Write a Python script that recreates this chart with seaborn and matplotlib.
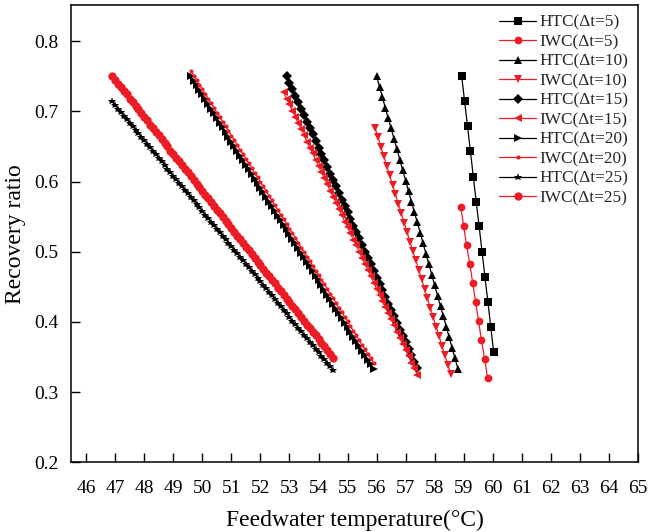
import matplotlib
matplotlib.use("Agg")
import matplotlib.pyplot as plt
import seaborn as sns
import pandas as pd

# ---------------- data ----------------
x_htc5 = [58.93, 59.03, 59.13, 59.23, 59.33, 59.43, 59.53, 59.63, 59.73, 59.83, 59.93, 60.03]
y_htc5 = [0.750, 0.714, 0.679, 0.643, 0.607, 0.571, 0.536, 0.500, 0.464, 0.429, 0.393, 0.357]

x_iwc5 = [58.90, 59.00, 59.10, 59.21, 59.31, 59.41, 59.51, 59.61, 59.72, 59.82]
y_iwc5 = [0.563, 0.536, 0.509, 0.482, 0.455, 0.428, 0.401, 0.374, 0.347, 0.320]

x_htc10 = [56.0, 56.1, 56.2, 56.3, 56.4, 56.5, 56.6, 56.7, 56.8, 56.9,
           57.0, 57.1, 57.2, 57.3, 57.4, 57.5, 57.6, 57.7, 57.8, 57.9,
           58.0, 58.1, 58.2, 58.3, 58.4, 58.5, 58.6, 58.7, 58.8]
y_htc10 = [0.750, 0.735, 0.720, 0.705, 0.690, 0.676, 0.661, 0.646, 0.631, 0.616,
           0.601, 0.586, 0.571, 0.556, 0.542, 0.527, 0.512, 0.497, 0.482, 0.467,
           0.452, 0.437, 0.422, 0.408, 0.393, 0.378, 0.363, 0.348, 0.333]

x_iwc10 = [55.95, 56.05, 56.15, 56.25, 56.35, 56.45, 56.55, 56.65, 56.75, 56.85,
           56.95, 57.05, 57.15, 57.25, 57.35, 57.45, 57.55, 57.65, 57.75, 57.85,
           57.95, 58.05, 58.15, 58.25, 58.35, 58.45, 58.55]
y_iwc10 = [0.676, 0.663, 0.649, 0.636, 0.622, 0.609, 0.595, 0.582, 0.568, 0.555,
           0.541, 0.528, 0.514, 0.501, 0.488, 0.474, 0.461, 0.447, 0.434, 0.420,
           0.407, 0.393, 0.380, 0.366, 0.353, 0.339, 0.326]

x_htc15 = [52.9, 53.0, 53.1, 53.2, 53.3, 53.4, 53.5, 53.6, 53.7, 53.8,
           53.9, 54.0, 54.1, 54.2, 54.3, 54.4, 54.5, 54.6, 54.7, 54.8,
           54.9, 55.0, 55.1, 55.2, 55.3, 55.4, 55.5, 55.6, 55.7, 55.8,
           55.9, 56.0, 56.1, 56.2, 56.3, 56.4, 56.5, 56.6, 56.7, 56.8,
           56.9, 57.0, 57.1, 57.2, 57.3, 57.4]
y_htc15 = [0.750, 0.741, 0.732, 0.722, 0.713, 0.704, 0.695, 0.685, 0.676, 0.667,
           0.658, 0.648, 0.639, 0.630, 0.621, 0.611, 0.602, 0.593, 0.584, 0.574,
           0.565, 0.556, 0.547, 0.537, 0.528, 0.519, 0.510, 0.500, 0.491, 0.482,
           0.473, 0.463, 0.454, 0.445, 0.436, 0.426, 0.417, 0.408, 0.399, 0.389,
           0.380, 0.371, 0.362, 0.353, 0.343, 0.334]

x_iwc15 = [52.8, 52.9, 53.0, 53.1, 53.2, 53.3, 53.4, 53.5, 53.6, 53.7, 53.8,
           53.9, 54.0, 54.1, 54.2, 54.3, 54.4, 54.5, 54.6, 54.7, 54.8,
           54.9, 55.0, 55.1, 55.2, 55.3, 55.4, 55.5, 55.6, 55.7, 55.8,
           55.9, 56.0, 56.1, 56.2, 56.3, 56.4, 56.5, 56.6, 56.7, 56.8,
           56.9, 57.0, 57.1, 57.2, 57.3, 57.4]
y_iwc15 = [0.727, 0.718, 0.710, 0.701, 0.692, 0.683, 0.675, 0.666, 0.657, 0.648,
           0.640, 0.631, 0.622, 0.613, 0.605, 0.596, 0.587, 0.578, 0.570, 0.561,
           0.552, 0.543, 0.535, 0.526, 0.517, 0.509, 0.500, 0.491, 0.482, 0.474,
           0.465, 0.456, 0.447, 0.439, 0.430, 0.421, 0.412, 0.404, 0.395, 0.386,
           0.377, 0.369, 0.360, 0.351, 0.342, 0.334, 0.325]

x_dt20 = [49.6, 49.7, 49.8, 49.9, 50.0, 50.1, 50.2, 50.3, 50.4, 50.5,
          50.6, 50.7, 50.8, 50.9, 51.0, 51.1, 51.2, 51.3, 51.4, 51.5,
          51.6, 51.7, 51.8, 51.9, 52.0, 52.1, 52.2, 52.3, 52.4, 52.5,
          52.6, 52.7, 52.8, 52.9, 53.0, 53.1, 53.2, 53.3, 53.4, 53.5,
          53.6, 53.7, 53.8, 53.9, 54.0, 54.1, 54.2, 54.3, 54.4, 54.5,
          54.6, 54.7, 54.8, 54.9, 55.0, 55.1, 55.2, 55.3, 55.4, 55.5,
          55.6, 55.7, 55.8, 55.9]
y_htc20 = [0.750, 0.743, 0.737, 0.730, 0.724, 0.717, 0.710, 0.704, 0.697, 0.690,
           0.684, 0.677, 0.671, 0.664, 0.657, 0.651, 0.644, 0.637, 0.631, 0.624,
           0.618, 0.611, 0.604, 0.598, 0.591, 0.585, 0.578, 0.571, 0.565, 0.558,
           0.551, 0.545, 0.538, 0.532, 0.525, 0.518, 0.512, 0.505, 0.498, 0.492,
           0.485, 0.479, 0.472, 0.465, 0.459, 0.452, 0.446, 0.439, 0.432, 0.426,
           0.419, 0.412, 0.406, 0.399, 0.393, 0.386, 0.379, 0.373, 0.366, 0.359,
           0.353, 0.346, 0.340, 0.333]
y_iwc20 = [0.758, 0.751, 0.745, 0.738, 0.732, 0.725, 0.718, 0.712, 0.705, 0.698,
           0.692, 0.685, 0.679, 0.672, 0.665, 0.659, 0.652, 0.645, 0.639, 0.632,
           0.626, 0.619, 0.612, 0.606, 0.599, 0.593, 0.586, 0.579, 0.573, 0.566,
           0.559, 0.553, 0.546, 0.540, 0.533, 0.526, 0.520, 0.513, 0.506, 0.500,
           0.493, 0.487, 0.480, 0.473, 0.467, 0.460, 0.454, 0.447, 0.440, 0.434,
           0.427, 0.420, 0.414, 0.407, 0.401, 0.394, 0.387, 0.381, 0.374, 0.367,
           0.361, 0.354, 0.348, 0.341]

x_dt25 = [46.9, 47.0, 47.1, 47.2, 47.3, 47.4, 47.5, 47.6, 47.7, 47.8,
          47.9, 48.0, 48.1, 48.2, 48.3, 48.4, 48.5, 48.6, 48.7, 48.8,
          48.9, 49.0, 49.1, 49.2, 49.3, 49.4, 49.5, 49.6, 49.7, 49.8,
          49.9, 50.0, 50.1, 50.2, 50.3, 50.4, 50.5, 50.6, 50.7, 50.8,
          50.9, 51.0, 51.1, 51.2, 51.3, 51.4, 51.5, 51.6, 51.7, 51.8,
          51.9, 52.0, 52.1, 52.2, 52.3, 52.4, 52.5, 52.6, 52.7, 52.8,
          52.9, 53.0, 53.1, 53.2, 53.3, 53.4, 53.5, 53.6, 53.7, 53.8,
          53.9, 54.0, 54.1, 54.2, 54.3, 54.4, 54.5]
y_htc25 = [0.714, 0.709, 0.704, 0.699, 0.694, 0.689, 0.684, 0.679, 0.674, 0.669,
           0.664, 0.659, 0.654, 0.649, 0.644, 0.639, 0.634, 0.629, 0.624, 0.618,
           0.613, 0.608, 0.603, 0.598, 0.593, 0.588, 0.583, 0.578, 0.573, 0.568,
           0.563, 0.558, 0.553, 0.548, 0.543, 0.538, 0.533, 0.528, 0.523, 0.518,
           0.513, 0.508, 0.503, 0.498, 0.493, 0.488, 0.483, 0.478, 0.473, 0.468,
           0.463, 0.458, 0.453, 0.448, 0.443, 0.438, 0.432, 0.427, 0.422, 0.417,
           0.412, 0.407, 0.402, 0.397, 0.392, 0.387, 0.382, 0.377, 0.372, 0.367,
           0.362, 0.357, 0.352, 0.347, 0.342, 0.337, 0.332]
y_iwc25 = [0.750, 0.745, 0.739, 0.734, 0.729, 0.724, 0.718, 0.713, 0.708, 0.703,
           0.697, 0.692, 0.687, 0.681, 0.676, 0.671, 0.666, 0.660, 0.655, 0.650,
           0.644, 0.639, 0.634, 0.629, 0.623, 0.618, 0.613, 0.608, 0.602, 0.597,
           0.592, 0.586, 0.581, 0.576, 0.571, 0.565, 0.560, 0.555, 0.550, 0.544,
           0.539, 0.534, 0.528, 0.523, 0.518, 0.513, 0.507, 0.502, 0.497, 0.491,
           0.486, 0.481, 0.476, 0.470, 0.465, 0.460, 0.455, 0.449, 0.444, 0.439,
           0.433, 0.428, 0.423, 0.418, 0.412, 0.407, 0.402, 0.396, 0.391, 0.386,
           0.381, 0.375, 0.370, 0.365, 0.360, 0.354, 0.349]

x_ticks = [46, 47, 48, 49, 50, 51, 52, 53, 54, 55, 56, 57, 58, 59, 60, 61, 62, 63, 64, 65]
y_ticks = [0.2, 0.3, 0.4, 0.5, 0.6, 0.7, 0.8]

# ---------------- style ----------------
sns.set_theme(style="white")
plt.rcParams["font.family"] = ["Liberation Serif", "DejaVu Serif"]

BLACK = "#000000"
RED = "#ec1c24"

series = [
    ("HTC(\u0394t=5)", x_htc5, y_htc5, BLACK, "s", 5.4),
    ("IWC(\u0394t=5)", x_iwc5, y_iwc5, RED, "o", 5.6),
    ("HTC(\u0394t=10)", x_htc10, y_htc10, BLACK, "^", 6.2),
    ("IWC(\u0394t=10)", x_iwc10, y_iwc10, RED, "v", 6.2),
    ("HTC(\u0394t=15)", x_htc15, y_htc15, BLACK, "D", 4.6),
    ("IWC(\u0394t=15)", x_iwc15, y_iwc15, RED, "<", 5.8),
    ("HTC(\u0394t=20)", x_dt20, y_htc20, BLACK, ">", 5.6),
    ("IWC(\u0394t=20)", x_dt20, y_iwc20, RED, "o", 3.0),
    ("HTC(\u0394t=25)", x_dt25, y_htc25, BLACK, "*", 6.2),
    ("IWC(\u0394t=25)", x_dt25, y_iwc25, RED, "o", 6.0),
]

fig = plt.figure(figsize=(6.48, 5.32), dpi=100)
ax = fig.add_axes([0.1096, 0.131, 0.875, 0.859])

for label, xs, ys, col, mk, ms in series:
    df = pd.DataFrame({"x": xs, "y": ys})
    sns.lineplot(data=df, x="x", y="y", ax=ax, color=col, marker=mk,
                 markersize=ms, markeredgewidth=0, linewidth=0.9,
                 sort=False, label=label, estimator=None)

ax.set_xlim(45.48, 65.0)
ax.set_ylim(0.2, 0.851)
ax.set_xticks(x_ticks)
ax.set_yticks(y_ticks)
ax.set_xticklabels([str(t) for t in x_ticks])
ax.set_yticklabels([f"{t:.1f}" for t in y_ticks])

ax.tick_params(axis="both", which="both", direction="in", length=6.5, width=1.0,
               labelsize=14, colors="black", top=False, right=False,
               bottom=True, left=True)
ax.tick_params(axis="x", pad=13)
ax.tick_params(axis="y", pad=9)
for sp in ax.spines.values():
    sp.set_visible(True)
    sp.set_color("black")
    sp.set_linewidth(1.1)

ax.set_xlabel("Feedwater temperature(\u00b0C)", fontsize=17, labelpad=9, color="black")
ax.set_ylabel("Recovery ratio", fontsize=17, labelpad=6, color="black")

ax.legend(loc="upper right", frameon=False, fontsize=12.4, handlelength=2.15,
          handletextpad=0.2, labelspacing=0.2, borderaxespad=0.25, borderpad=0.3)

fig.savefig("out.png", dpi=100)
